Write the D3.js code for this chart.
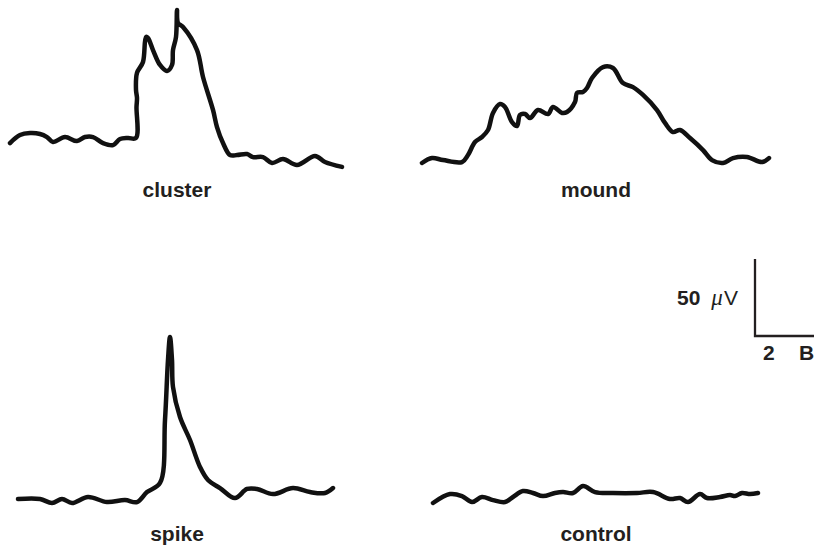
<!DOCTYPE html>
<html>
<head>
<meta charset="utf-8">
<script src="https://cdn.jsdelivr.net/npm/d3@7"></script>
<style>
  body { margin: 0; background: #fff; }
  text { font-family: "Liberation Sans", Arial, sans-serif; fill: #231f20; }
</style>
</head>
<body>
<script>
"use strict"

// traces: [time (samples), amplitude (uV)]
const cluster = [
  [0, 11.0], [10, 16.2], [20, 17.5], [30, 16.9], [37, 14.9], [43, 11.7], [55, 14.9],
  [67, 12.3], [75, 14.9], [83, 14.9], [93, 11.0], [103, 9.7], [110, 13.6], [118, 14.3],
  [126, 14.3], [126.5, 34.4], [127, 40.3], [126, 45.5], [127, 56.5], [133, 63.6],
  [136, 79.9], [138, 79.2], [143, 71.4], [150, 61.7], [157, 57.8], [162, 61.7],
  [163, 71.4], [166, 79.9], [167, 97.4], [168, 89.0], [173, 86.4], [187, 71.4],
  [193, 53.9], [203, 32.5], [207, 21.4], [213, 11.0], [220, 3.2], [227, 3.2],
  [237, 3.9], [243, 1.9], [253, 1.9], [262, -1.9], [273, 0.6], [287, -3.2],
  [305, 2.6], [315, -1.3], [332, -4.5]
];

const mound = [
  [0, 1.3], [10, 4.5], [21, 3.2], [40, 1.9], [46, 6.5], [53, 14.9], [60, 18.2],
  [66, 22.7], [71, 33.8], [78, 39.6], [83, 37.7], [90, 27.9], [95, 25.3], [98, 32.5],
  [103, 33.1], [108, 30.5], [116, 35.7], [126, 33.1], [131, 37.7], [140, 33.8],
  [145, 34.4], [153, 40.9], [155, 46.8], [161, 47.4], [165, 50.0], [170, 56.5],
  [181, 63.6], [191, 63.0], [201, 53.2], [211, 50.6], [221, 45.5], [235, 35.7],
  [243, 27.3], [251, 21.4], [258, 22.7], [268, 17.5], [281, 9.7], [290, 3.2],
  [301, 1.3], [311, 4.5], [325, 5.2], [340, 1.9], [347, 4.5]
];

const spike = [
  [0, 3.9], [22, 3.9], [34, 1.3], [44, 3.9], [54, 1.3], [70, 5.2], [89, 1.9],
  [107, 3.2], [119, 1.9], [129, 8.4], [142, 14.3], [147, 55.2], [150, 94.2],
  [152, 109.1], [154, 94.2], [155, 76.6], [162, 57.1], [172, 42.2], [182, 24.7],
  [190, 16.2], [202, 11.0], [217, 4.5], [229, 10.4], [239, 10.4], [255, 7.1],
  [275, 11.0], [292, 8.4], [307, 7.8], [315, 11.0]
];

const control = [
  [0, 1.3], [17, 7.1], [29, 5.8], [39, 1.9], [49, 5.2], [60, 3.2], [72, 1.9],
  [80, 5.2], [90, 9.1], [100, 7.8], [110, 5.8], [122, 7.8], [130, 8.4], [140, 7.8],
  [150, 12.3], [162, 8.4], [180, 7.8], [204, 7.8], [220, 8.4], [237, 3.9],
  [247, 4.5], [255, 1.9], [267, 7.1], [274, 4.5], [287, 5.2], [297, 6.5],
  [302, 5.8], [309, 7.8], [317, 7.1], [325, 7.8]
];

const labels = ["cluster", "mound", "spike", "control"];
const traces = [cluster, mound, spike, control];

// scale bar values
const barAmp = 50;     // uV
const barTime = 59;    // samples
const barTimeLabel = ["2", "B"];

const w = 814;
const h = 548;

// where each trace sits on the page: time origin, 0 uV line, label spot
const layout = [
  { x: 10,  y: 160, lx: 177, ly: 197 },
  { x: 422, y: 165, lx: 596, ly: 197 },
  { x: 18,  y: 505, lx: 177, ly: 541 },
  { x: 433, y: 505, lx: 596, ly: 541 }
];

const svg = d3.select("body")
  .append("svg")
  .attr("width", w)
  .attr("height", h);

// shared scales: 1 sample = 1 px, 50 uV = 77 px
const xScale = d3.scaleLinear().domain([0, 1]).range([0, 1]);
const yScale = d3.scaleLinear().domain([0, barAmp]).range([0, -77]);

const line = d3.line()
  .x(d => xScale(d[0]))
  .y(d => yScale(d[1]))
  .curve(d3.curveCatmullRom.alpha(0.5));

traces.forEach((data, i) => {
  const pos = layout[i];
  const g = svg.append("g")
    .attr("transform", "translate(" + pos.x + "," + pos.y + ")");

  g.append("path")
    .datum(data)
    .attr("d", line)
    .attr("fill", "none")
    .attr("stroke", "#111")
    .attr("stroke-width", 4.5)
    .attr("stroke-linejoin", "round")
    .attr("stroke-linecap", "round");

  svg.append("text")
    .attr("x", pos.lx)
    .attr("y", pos.ly)
    .attr("text-anchor", "middle")
    .style("font-size", "21px")
    .style("font-weight", "bold")
    .text(labels[i]);
});

// scale bar
const bar = svg.append("g").attr("transform", "translate(755,336)");

bar.append("path")
  .attr("d", "M0," + yScale(barAmp) + "V0H" + xScale(barTime))
  .attr("fill", "none")
  .attr("stroke", "#231f20")
  .attr("stroke-width", 2.3);

const ampText = svg.append("text")
  .attr("x", 677)
  .attr("y", 305)
  .style("font-size", "21px");
ampText.append("tspan").style("font-weight", "bold").text(barAmp);
ampText.append("tspan")
  .attr("dx", 11)
  .style("font-family", "'Liberation Serif', 'Times New Roman', serif")
  .style("font-style", "italic")
  .style("font-size", "23px")
  .text("\u03bc");
ampText.append("tspan").attr("dx", 1).text("V");

svg.append("text")
  .attr("x", 763)
  .attr("y", 360)
  .style("font-size", "21px")
  .style("font-weight", "bold")
  .text(barTimeLabel[0]);

svg.append("text")
  .attr("x", 799)
  .attr("y", 360)
  .style("font-size", "21px")
  .style("font-weight", "bold")
  .text(barTimeLabel[1]);
</script>
</body>
</html>
